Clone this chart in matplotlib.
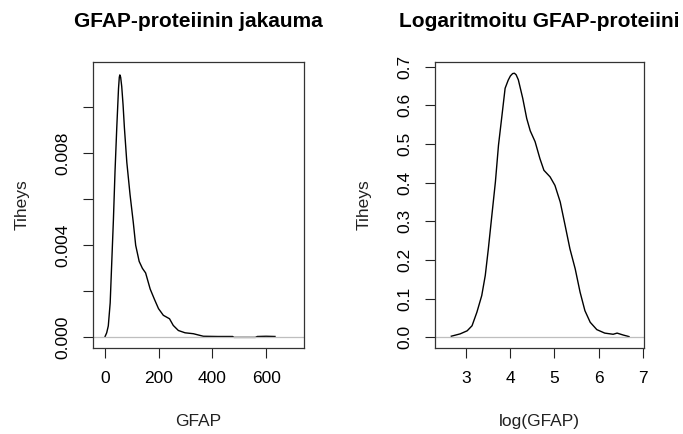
import matplotlib
matplotlib.use("Agg")
import matplotlib.pyplot as plt

plt.rcParams["font.family"] = ["Liberation Sans", "DejaVu Sans"]

# ---- data ----
gfap_x = [0, 6, 12, 19, 25, 31, 37, 43.5, 50, 53, 55, 58, 62, 67, 72, 81, 93,
          105, 114, 127, 139, 151, 168, 184, 199, 217, 240, 254, 273, 298,
          329, 366, 420, 475, 480, 560, 567, 600, 633]
gfap_y = [0.00004, 0.0002, 0.0005, 0.0015, 0.0033, 0.0051, 0.0072, 0.0091,
          0.0108, 0.0113, 0.0114, 0.0113, 0.0109, 0.0101, 0.0091, 0.0076,
          0.0062, 0.0050, 0.0040, 0.0033, 0.0030, 0.0028, 0.0021, 0.00165,
          0.00125, 0.00096, 0.00081, 0.00052, 0.0003, 0.0002, 0.00016,
          0.00005, 0.00004, 0.00004, 0.0, 0.0, 0.00004, 0.00005, 0.00004]

log_x = [2.66, 2.86, 3.02, 3.13, 3.24, 3.35, 3.43, 3.50, 3.58, 3.66, 3.73,
         3.81, 3.88, 3.95, 4.00, 4.05, 4.09, 4.13, 4.18, 4.28, 4.37, 4.45,
         4.56, 4.67, 4.76, 4.90, 5.01, 5.13, 5.24, 5.35, 5.47, 5.58, 5.69,
         5.81, 5.96, 6.14, 6.33, 6.42, 6.56, 6.69]
log_y = [0.003, 0.009, 0.017, 0.030, 0.065, 0.108, 0.16, 0.229, 0.316, 0.402,
         0.497, 0.575, 0.644, 0.665, 0.676, 0.682, 0.683, 0.679, 0.666, 0.618,
         0.566, 0.534, 0.506, 0.462, 0.432, 0.415, 0.393, 0.350, 0.290, 0.229,
         0.177, 0.117, 0.069, 0.039, 0.020, 0.011, 0.008, 0.011, 0.006, 0.002]

left_xticks = [0, 200, 400, 600]
left_yticks = [0.0, 0.002, 0.004, 0.006, 0.008, 0.010]
left_ylabels = ["0.000", "", "0.004", "", "0.008", ""]
right_xticks = [3, 4, 5, 6, 7]
right_yticks = [0.0, 0.1, 0.2, 0.3, 0.4, 0.5, 0.6, 0.7]
right_ylabels = ["0.0", "0.1", "0.2", "0.3", "0.4", "0.5", "0.6", "0.7"]

titles = ["GFAP-proteiinin jakauma", "Logaritmoitu GFAP-proteiini"]
xlabels = ["GFAP", "log(GFAP)"]
ylabel = "Tiheys"

W, H = 683, 434
fig = plt.figure(figsize=(W / 100, H / 100), dpi=100)

# axes boxes in pixels: (left, top, right, bottom)
boxes = [(93, 62, 304, 348), (435, 62, 644, 348)]
panels = [
    (gfap_x, gfap_y, (-45, 741), (-0.00046, 0.01196), left_xticks, left_yticks, left_ylabels),
    (log_x, log_y, (2.29, 7.03), (-0.0275, 0.712), right_xticks, right_yticks, right_ylabels),
]

for i, (box, panel) in enumerate(zip(boxes, panels)):
    l, t, r, b = box
    ax = fig.add_axes([l / W, 1 - b / H, (r - l) / W, (b - t) / H])
    xs, ys, xlim, ylim, xt, yt, ylab = panel
    ax.plot(xs, ys, color="black", lw=1.0, solid_joinstyle="round")
    ax.axhline(0, color="#bebebe", lw=0.9)
    ax.set_xlim(*xlim)
    ax.set_ylim(*ylim)
    ax.set_xticks(xt)
    ax.set_xticklabels([str(v) for v in xt])
    ax.set_yticks(yt)
    ax.set_yticklabels(ylab, rotation=90, va="center")
    ax.tick_params(direction="out", length=7.5, width=0.8, labelsize=12.5,
                   color="#222222")
    ax.tick_params(axis="x", pad=9)
    ax.tick_params(axis="y", pad=9)
    for s in ax.spines.values():
        s.set_color("#333333")
        s.set_linewidth(0.9)
    cx = (l + r) / 2 / W
    fig.text(cx, 1 - 21.7 / H, titles[i], ha="center", va="center",
             fontsize=15, fontweight="bold")
    fig.text(cx, 1 - 421.7 / H, xlabels[i], ha="center", va="center",
             fontsize=12.5, color="#222222")
    fig.text((l - 71) / W, 1 - (t + b) / 2 / H, ylabel, ha="center", va="center",
             rotation=90, fontsize=12.5, color="#222222")

fig.savefig("out.png", dpi=100)
